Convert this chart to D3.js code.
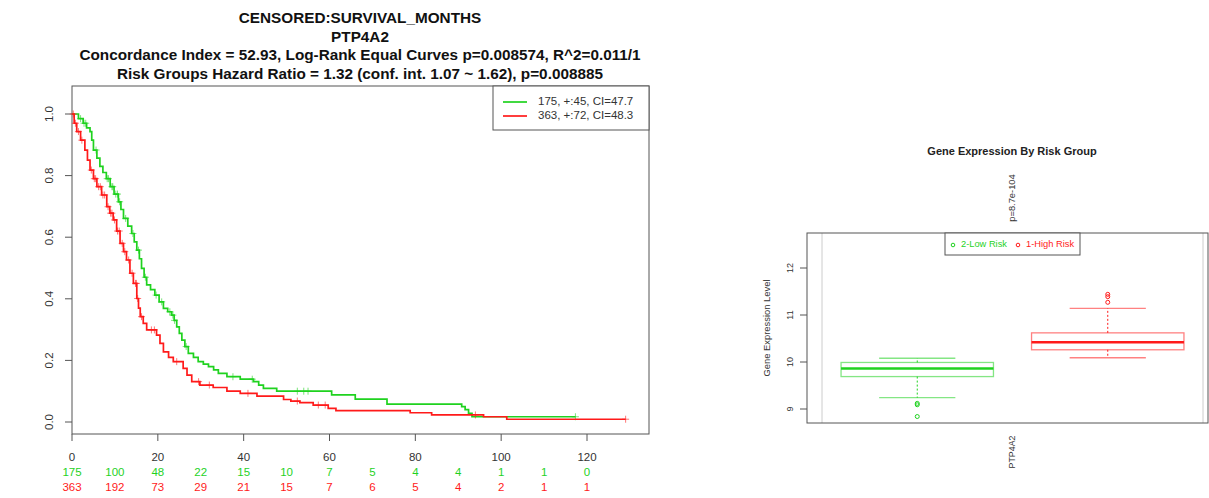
<!DOCTYPE html>
<html><head><meta charset="utf-8">
<script src="https://cdn.jsdelivr.net/npm/d3@7"></script>
<style>
body{margin:0;background:#fff;}
svg text{font-family:"Liberation Sans",Arial,Helvetica,sans-serif;}
</style></head>
<body><svg id="c" width="1209" height="498"></svg>
<script>
// ---------- Data ----------
const titleLines = ["CENSORED:SURVIVAL_MONTHS","PTP4A2",
  "Concordance Index = 52.93, Log-Rank Equal Curves p=0.008574, R^2=0.011/1",
  "Risk Groups Hazard Ratio = 1.32 (conf. int. 1.07 ~ 1.62), p=0.008885"];
const legendLabels = ["175, +:45, CI=47.7","363, +:72, CI=48.3"];
const xTicks = [0,20,40,60,80,100,120];
const yTicks = [0,0.2,0.4,0.6,0.8,1.0];
const riskTimes = [0,10,20,30,40,50,60,70,80,90,100,110,120];
const riskGreen = [175,100,48,22,15,10,7,5,4,4,1,1,0];
const riskRed   = [363,192,73,29,21,15,7,6,5,4,2,1,1];

const greenT = [0,1.5,2.6,3.4,4.2,4.6,5.0,5.8,6.5,7.2,8.0,8.9,9.8,10.8,11.4,12.0,13.0,13.9,14.5,15.1,15.7,16.2,16.8,17.4,18.3,19.3,20.3,21.3,22.3,23.2,23.8,24.4,25.0,25.6,26.3,27.1,28.3,29.4,30.6,31.8,33.0,34.1,36.1,39.2,42.3,43.5,44.6,47.7,60.5,66.0,73.4,90.8,91.6,92.4,93.2];
const greenS = [1.0,0.985,0.97,0.955,0.943,0.915,0.883,0.857,0.83,0.81,0.79,0.764,0.74,0.715,0.69,0.661,0.636,0.612,0.585,0.558,0.53,0.499,0.47,0.445,0.43,0.412,0.39,0.369,0.358,0.347,0.33,0.309,0.288,0.266,0.245,0.223,0.21,0.196,0.188,0.18,0.169,0.158,0.147,0.139,0.131,0.12,0.109,0.10,0.088,0.074,0.058,0.05,0.04,0.028,0.017];
const greenEnd = 117.3;
const greenCens = [2.0,2.8,3.2,5.6,8.2,8.5,9.3,9.5,10.2,10.6,11.1,12.5,14.2,15.5,17.1,19.6,20.9,22.8,23.5,23.9,26.6,37.5,42.0,52.5,54.0,55.0,117.3];

const redT = [0,0.5,1.1,2.0,3.0,3.6,4.2,5.0,5.8,6.9,8.1,8.8,9.6,10.4,11.2,12.0,12.7,13.5,14.3,15.1,15.5,15.9,16.6,17.4,19.7,20.5,21.3,22.5,23.6,25.9,26.8,27.9,29.8,32.9,36.1,39.2,43.1,49.3,51.0,53.1,56.2,59.7,61.5,78.8,83.8,95.9,101.3];
const redS = [1.0,0.97,0.943,0.915,0.883,0.85,0.818,0.79,0.764,0.737,0.699,0.678,0.656,0.62,0.58,0.553,0.526,0.483,0.45,0.401,0.37,0.342,0.32,0.299,0.282,0.255,0.228,0.21,0.196,0.174,0.152,0.131,0.12,0.112,0.10,0.093,0.084,0.073,0.068,0.063,0.055,0.044,0.037,0.030,0.023,0.017,0.009];
const redEnd = 129.0;
const redCens = [0.3,0.8,1.5,2.3,4.5,5.2,5.5,6.2,6.6,7.2,7.6,8.4,9.0,9.3,9.9,10.6,11.0,11.7,12.3,13.2,14.0,14.8,15.0,15.3,16.2,18.5,19.2,24.4,29.5,32.0,41.0,52.5,57.4,59.0,94.0,129.0];

// box plot data
const bpTitle = "Gene Expression By Risk Group";
const bpP = "p=8.7e-104";
const bpGroups = ["2-Low Risk","1-High Risk"];
const bpQ1 = [9.69,10.26];
const bpMed = [9.86,10.42];
const bpQ3 = [9.99,10.62];
const bpLo = [9.24,10.09];
const bpHi = [10.08,11.14];
const bpOut = [[9.12,9.09,8.84],[11.44,11.39,11.27]];
const bpYTicks = [9,10,11,12];
const bpXLabel = "PTP4A2";
const bpYLabel = "Gene Expression Level";

const GREEN = "#1fd21f", RED = "#ff1a1a";
const colors = [GREEN, RED];

// ---------- KM plot ----------
const svg = d3.select("#c");
const x = d3.scaleLinear().domain([0,120]).range([72,587]);
const y = d3.scaleLinear().domain([0,1]).range([422,114]);
const box = {l:72, r:649, t:86, b:434};

// titles
const tY = [19,37.5,56,74.5];
titleLines.forEach((t,i)=>{
  svg.append("text").attr("x",360).attr("y",tY[i]).attr("text-anchor","middle")
    .attr("dominant-baseline","middle").attr("font-size",15.3).attr("font-weight","bold")
    .attr("fill","#111").text(t);
});

svg.append("rect").attr("x",box.l).attr("y",box.t).attr("width",box.r-box.l).attr("height",box.b-box.t)
  .attr("fill","none").attr("stroke","#555").attr("stroke-width",1);

// y axis ticks
const gy = svg.append("g");
yTicks.forEach(v=>{
  gy.append("line").attr("x1",box.l-7).attr("x2",box.l).attr("y1",y(v)).attr("y2",y(v)).attr("stroke","#555");
  gy.append("text").attr("transform",`translate(50,${y(v)}) rotate(-90)`).attr("text-anchor","middle")
    .attr("dominant-baseline","middle").attr("font-size",11.5).attr("fill","#333").text(v.toFixed(1));
});
// x axis
const gx = svg.append("g");
xTicks.forEach(v=>{
  gx.append("line").attr("x1",x(v)).attr("x2",x(v)).attr("y1",box.b).attr("y2",box.b+7).attr("stroke","#555");
  gx.append("text").attr("x",x(v)).attr("y",458).attr("text-anchor","middle")
    .attr("dominant-baseline","middle").attr("font-size",11.5).attr("fill","#333").text(v);
});

// curves
function stepFn(T,S){ return t=>{ let s=S[0]; for(let i=0;i<T.length;i++){ if(T[i]<=t) s=S[i]; } return s; }; }
const series = [
  {T:greenT,S:greenS,end:greenEnd,cens:greenCens,c:GREEN},
  {T:redT,S:redS,end:redEnd,cens:redCens,c:RED}
];
const line = d3.line().x(d=>x(d[0])).y(d=>y(d[1])).curve(d3.curveStepAfter);
series.forEach(s=>{
  const pts = s.T.map((t,i)=>[t,s.S[i]]);
  pts.push([s.end,s.S[s.S.length-1]]);
  svg.append("path").attr("d",line(pts)).attr("fill","none").attr("stroke",s.c).attr("stroke-width",1.7);
  const f = stepFn(s.T,s.S);
  svg.append("g").selectAll("path").data(s.cens).join("path")
    .attr("d",t=>`M${x(t)-3.5},${y(f(t))}h7M${x(t)},${y(f(t))-3.5}v7`)
    .attr("stroke",s.c).attr("stroke-opacity",0.6).attr("stroke-width",1);
});

// legend
svg.append("rect").attr("x",493).attr("y",box.t).attr("width",box.r-493).attr("height",44)
  .attr("fill","#fff").attr("stroke","#555");
legendLabels.forEach((t,i)=>{
  const ly = 102 + i*14;
  svg.append("line").attr("x1",503).attr("x2",527).attr("y1",ly).attr("y2",ly).attr("stroke",colors[i]).attr("stroke-width",1.7);
  svg.append("text").attr("x",538).attr("y",ly).attr("dominant-baseline","middle").attr("font-size",11.5)
    .attr("fill","#333").text(t);
});

// risk table
[riskGreen,riskRed].forEach((arr,k)=>{
  svg.append("g").selectAll("text").data(arr).join("text")
    .attr("x",(d,i)=>x(riskTimes[i])).attr("y",k?488:473).attr("text-anchor","middle")
    .attr("dominant-baseline","middle").attr("font-size",11.5).attr("fill",colors[k]).text(d=>d);
});

// ---------- Box plot ----------
const bx = d3.scalePoint().domain(bpGroups).range([822,1203]).padding(0.5);
const by = d3.scaleLinear().domain([9,12]).range([409,268]);
const bbox = {l:807, r:1208, t:233, b:423};
const bw = bx.step()*0.8;

svg.append("text").attr("x",1012).attr("y",152).attr("text-anchor","middle").attr("dominant-baseline","middle")
  .attr("font-size",11).attr("font-weight","bold").attr("fill","#222").text(bpTitle);
svg.append("text").attr("transform","translate(1013,198) rotate(-90)").attr("text-anchor","middle")
  .attr("dominant-baseline","middle").attr("font-size",9.3).attr("fill","#333").text(bpP);

// light gray verticals at range edges
bx.range().forEach(v=>{
  svg.append("line").attr("x1",v).attr("x2",v).attr("y1",bbox.t).attr("y2",bbox.b).attr("stroke","#ccc");
});
svg.append("rect").attr("x",bbox.l).attr("y",bbox.t).attr("width",bbox.r-bbox.l).attr("height",bbox.b-bbox.t)
  .attr("fill","none").attr("stroke","#555");

bpYTicks.forEach(v=>{
  svg.append("line").attr("x1",bbox.l-7).attr("x2",bbox.l).attr("y1",by(v)).attr("y2",by(v)).attr("stroke","#555");
  svg.append("text").attr("transform",`translate(791,${by(v)}) rotate(-90)`).attr("text-anchor","middle")
    .attr("dominant-baseline","middle").attr("font-size",9).attr("fill","#333").text(v);
});
svg.append("text").attr("transform","translate(768,328) rotate(-90)").attr("text-anchor","middle")
  .attr("dominant-baseline","middle").attr("font-size",9.4).attr("fill","#333").text(bpYLabel);
svg.append("text").attr("transform","translate(1013,452) rotate(-90)").attr("text-anchor","middle")
  .attr("dominant-baseline","middle").attr("font-size",8.8).attr("fill","#333").text(bpXLabel);

bpGroups.forEach((g,i)=>{
  const cx = bx(g), c = colors[i];
  const G = svg.append("g");
  G.append("line").attr("x1",cx).attr("x2",cx).attr("y1",by(bpQ3[i])).attr("y2",by(bpHi[i]))
    .attr("stroke",c).attr("stroke-dasharray","2,2").attr("stroke-width",1);
  G.append("line").attr("x1",cx).attr("x2",cx).attr("y1",by(bpQ1[i])).attr("y2",by(bpLo[i]))
    .attr("stroke",c).attr("stroke-dasharray","2,2").attr("stroke-width",1);
  [bpHi[i],bpLo[i]].forEach(v=>{
    G.append("line").attr("x1",cx-bw/4).attr("x2",cx+bw/4).attr("y1",by(v)).attr("y2",by(v))
      .attr("stroke",c).attr("stroke-opacity",0.55).attr("stroke-width",1.3);
  });
  G.append("rect").attr("x",cx-bw/2).attr("y",by(bpQ3[i])).attr("width",bw).attr("height",by(bpQ1[i])-by(bpQ3[i]))
    .attr("fill","none").attr("stroke",c).attr("stroke-opacity",0.55).attr("stroke-width",1.3);
  G.append("line").attr("x1",cx-bw/2).attr("x2",cx+bw/2).attr("y1",by(bpMed[i])).attr("y2",by(bpMed[i]))
    .attr("stroke",c).attr("stroke-width",2.5);
  G.selectAll("circle").data(bpOut[i]).join("circle").attr("cx",cx).attr("cy",d=>by(d)).attr("r",2)
    .attr("fill","none").attr("stroke",c).attr("stroke-width",1);
});

// box legend
svg.append("rect").attr("x",945).attr("y",bbox.t).attr("width",135).attr("height",22).attr("fill","#fff").attr("stroke","#555");
const lx = [953,1018];
bpGroups.forEach((g,i)=>{
  svg.append("circle").attr("cx",lx[i]).attr("cy",245).attr("r",1.8).attr("fill","none").attr("stroke",colors[i]);
  svg.append("text").attr("x",lx[i]+8).attr("y",245).attr("dominant-baseline","middle").attr("font-size",9.3)
    .attr("fill",colors[i]).text(g);
});
</script></body></html>
